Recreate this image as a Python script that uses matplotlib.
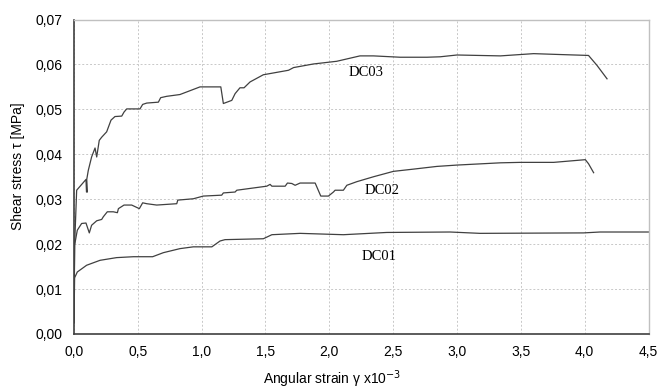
import matplotlib
matplotlib.use('Agg')
import matplotlib.pyplot as plt

# Data (strain x10^-3, shear stress MPa)
dc01_x = [0.0, 0.005, 0.008, 0.026, 0.099, 0.204, 0.334, 0.465, 0.616, 0.70, 0.83, 0.935,
          1.08, 1.144, 1.183, 1.483, 1.55, 1.771, 2.11, 2.45, 2.946, 3.18, 3.99, 4.12, 4.5]
dc01_y = [0.0025, 0.0125, 0.0127, 0.0138, 0.0153, 0.0164, 0.0170, 0.0172, 0.0172, 0.0181, 0.0190, 0.0194,
          0.0194, 0.0207, 0.0210, 0.0212, 0.0221, 0.0224, 0.0221, 0.0226, 0.0227, 0.0224, 0.0225, 0.0227, 0.0227]

dc02_x = [0.0, 0.005, 0.026, 0.06, 0.094, 0.12, 0.138, 0.178, 0.217, 0.23, 0.261, 0.308, 0.34, 0.348,
          0.392, 0.452, 0.512, 0.538, 0.57, 0.648, 0.805, 0.813, 0.935, 1.013, 1.157, 1.17, 1.262,
          1.275, 1.379, 1.51, 1.536, 1.55, 1.654, 1.672, 1.706, 1.732, 1.771, 1.889, 1.933, 1.993,
          2.032, 2.045, 2.11, 2.137, 2.215, 2.346, 2.502, 2.66, 2.842, 3.0, 3.34, 3.495, 3.757,
          4.005, 4.03, 4.07]
dc02_y = [0.0025, 0.0198, 0.0231, 0.0246, 0.0247, 0.0225, 0.0242, 0.0252, 0.0255, 0.0261, 0.0272, 0.0272,
          0.0270, 0.0279, 0.0287, 0.0287, 0.0279, 0.0292, 0.0290, 0.0287, 0.0290, 0.0298, 0.0301, 0.0307,
          0.0309, 0.0314, 0.0316, 0.0320, 0.0324, 0.0329, 0.0333, 0.0329, 0.0329, 0.0336, 0.0335, 0.0331,
          0.0336, 0.0336, 0.0307, 0.0307, 0.0316, 0.0320, 0.0320, 0.0331, 0.0339, 0.0350, 0.0362, 0.0367,
          0.0373, 0.0376, 0.0381, 0.0382, 0.0382, 0.0388, 0.0379, 0.0359]

dc03_x = [0.0, 0.005, 0.021, 0.094, 0.098, 0.105, 0.10, 0.112, 0.138, 0.165, 0.178, 0.198, 0.217, 0.256,
          0.29, 0.321, 0.374, 0.392, 0.413, 0.517, 0.538, 0.57, 0.661, 0.679, 0.726, 0.83, 0.987,
          1.15, 1.17, 1.236, 1.262, 1.30, 1.332, 1.379, 1.483, 1.68, 1.72, 1.875, 2.058, 2.24, 2.346,
          2.555, 2.764, 2.868, 3.0, 3.34, 3.6, 3.81, 4.03, 4.096, 4.175]
dc03_y = [0.0025, 0.0198, 0.0320, 0.0344, 0.0316, 0.0316, 0.0344, 0.0364, 0.0394, 0.0414, 0.0394, 0.0431,
          0.0438, 0.0450, 0.0476, 0.0484, 0.0485, 0.0494, 0.0501, 0.0501, 0.0511, 0.0514, 0.0516, 0.0526,
          0.0529, 0.0533, 0.0550, 0.0550, 0.0513, 0.0520, 0.0535, 0.0548, 0.0548, 0.0561, 0.0577, 0.0587,
          0.0593, 0.0601, 0.0607, 0.0619, 0.0619, 0.0616, 0.0616, 0.0617, 0.0621, 0.0619, 0.0624, 0.0622,
          0.0620, 0.0598, 0.0568]

labels = ['DC01', 'DC02', 'DC03']
label_pos = [(2.39, 0.0173), (2.41, 0.0320), (2.29, 0.0582)]

x_ticks = [0.0, 0.5, 1.0, 1.5, 2.0, 2.5, 3.0, 3.5, 4.0, 4.5]
y_ticks = [0.00, 0.01, 0.02, 0.03, 0.04, 0.05, 0.06, 0.07]

plt.rcParams['font.family'] = ['Liberation Sans', 'DejaVu Sans']

fig = plt.figure(figsize=(6.57, 3.9), dpi=100)
ax = fig.add_axes([0.1126, 0.1436, 0.8745, 0.8064])

line_color = '#404040'
for xs, ys in [(dc01_x, dc01_y), (dc02_x, dc02_y), (dc03_x, dc03_y)]:
    ax.plot(xs, ys, color=line_color, lw=0.9)

for name, (lx, ly) in zip(labels, label_pos):
    ax.text(lx, ly, name, family='Liberation Serif', fontsize=10.5, ha='center', va='center')

ax.set_xlim(0, 4.5)
ax.set_ylim(0, 0.07)
ax.set_xticks(x_ticks)
ax.set_yticks(y_ticks)
ax.set_xticklabels([f'{v:.1f}'.replace('.', ',') for v in x_ticks], fontsize=10)
ax.set_yticklabels([f'{v:.2f}'.replace('.', ',') for v in y_ticks], fontsize=10)
ax.tick_params(length=0, pad=8)
ax.grid(True, color='#c8c8c8', ls=(0, (2, 2)), lw=0.7)

for side in ['left', 'bottom']:
    ax.spines[side].set_color('#404040')
    ax.spines[side].set_linewidth(1.2)
for side in ['top', 'right']:
    ax.spines[side].set_color('#c0c0c0')
    ax.spines[side].set_linewidth(1.0)

ax.set_xlabel('Angular strain γ x10$^{-3}$', fontsize=10)
ax.set_ylabel('Shear stress τ [MPa]', fontsize=10)
ax.xaxis.set_label_coords(0.45, -0.11)
ax.yaxis.set_label_coords(-0.085, 0.534)

fig.savefig('out.png', dpi=100)
